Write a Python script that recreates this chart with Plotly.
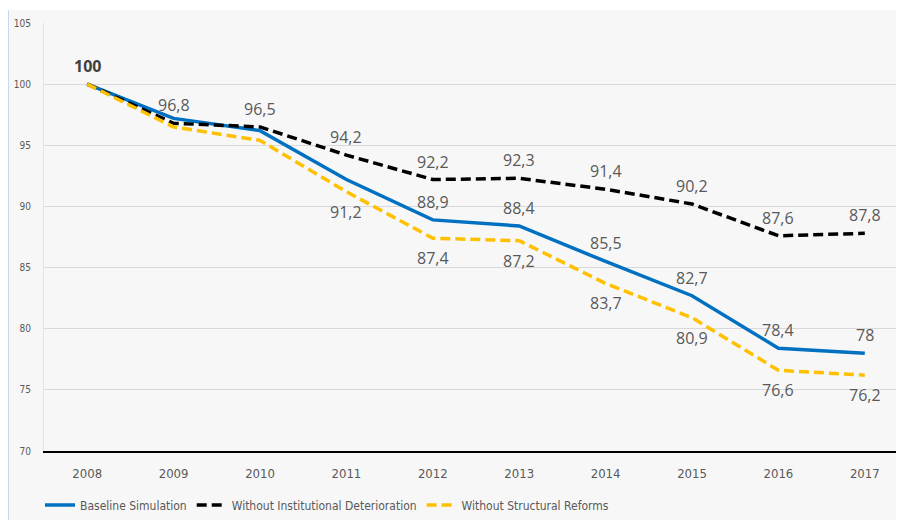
import plotly.graph_objects as go

years = [2008, 2009, 2010, 2011, 2012, 2013, 2014, 2015, 2016, 2017]
baseline = [100, 97.2, 96.2, 92.2, 88.9, 88.4, 85.5, 82.7, 78.4, 78]
without_inst = [100, 96.8, 96.5, 94.2, 92.2, 92.3, 91.4, 90.2, 87.6, 87.8]
without_struct = [100, 96.5, 95.4, 91.2, 87.4, 87.2, 83.7, 80.9, 76.6, 76.2]

series_names = ["Baseline Simulation", "Without Institutional Deterioration", "Without Structural Reforms"]
series_colors = ["#0070C0", "#000000", "#FFC000"]
series_dash = ["solid", "10px,5px", "10px,5px"]

# which years get a data label, and where (above / below)
baseline_label_years = [2012, 2013, 2014, 2015, 2016, 2017]
inst_label_years = [2009, 2010, 2011, 2012, 2013, 2014, 2015, 2016, 2017]
struct_label_years = [2011, 2012, 2013, 2014, 2015, 2016, 2017]

y_ticks = [70, 75, 80, 85, 90, 95, 100, 105]

NARROW = "DejaVu Sans Condensed, Roboto, sans-serif"
LABEL_FONT = "Open Sans, Liberation Sans, sans-serif"
GRAY = "#595959"


def fmt(v):
    if float(v).is_integer():
        return str(int(v))
    return str(v).replace(".", ",")


fig = go.Figure()
for name, vals, col, dash in zip(series_names, [baseline, without_inst, without_struct], series_colors, series_dash):
    fig.add_trace(go.Scatter(x=years, y=vals, mode="lines", name=name,
                             line=dict(color=col, width=3.5, dash=dash),
                             hoverinfo="skip"))

annotations = []
annotations.append(dict(x=years[0], y=baseline[0], text="<b>" + fmt(baseline[0]) + "</b>",
                        showarrow=False, yshift=18, font=dict(family=LABEL_FONT, size=16, color="#404040")))
for vals, lab_years, shift in [(baseline, baseline_label_years, 18),
                               (without_inst, inst_label_years, 18),
                               (without_struct, struct_label_years, -20)]:
    for yr in lab_years:
        v = vals[years.index(yr)]
        annotations.append(dict(x=yr, y=v, text=fmt(v), showarrow=False, yshift=shift,
                                font=dict(family=LABEL_FONT, size=16, color=GRAY)))

# figure geometry helpers (plot area: x 36..904 px, y 15..443 px in figure coords)
px_l, px_w, py_b, py_h = 36, 868, 443, 428
def pxx(p):
    return (p - px_l) / px_w
def pxy(p):
    return (py_b - p) / py_h

shapes = [
    dict(type="rect", xref="paper", yref="paper", x0=pxx(0), x1=1.0, y0=pxy(2), y1=pxy(0),
         fillcolor="#ffffff", line=dict(width=0), layer="below"),
    dict(type="line", xref="paper", yref="paper", x0=pxx(0.5), x1=pxx(0.5), y0=pxy(520), y1=pxy(2),
         line=dict(color="#c5d9f1", width=1), layer="below"),
]

fig.update_layout(
    width=904, height=520,
    margin=dict(l=36, r=0, t=15, b=77),
    paper_bgcolor="#f7f7f7",
    plot_bgcolor="#f7f7f7",
    showlegend=True,
    legend=dict(orientation="h", x=pxx(32), xanchor="left", y=pxy(497), yanchor="middle",
                font=dict(family=NARROW, size=12, color=GRAY), bgcolor="rgba(0,0,0,0)",
                itemwidth=30, tracegroupgap=0),
    annotations=annotations,
    shapes=shapes,
    xaxis=dict(range=[2007.5, 2007.5 + 868 / 86.4], tickvals=years, ticktext=[str(y) for y in years],
               showgrid=False, zeroline=False, showline=True, linecolor="#000000", linewidth=1.5,
               ticks="", tickfont=dict(family=NARROW, size=13, color=GRAY), ticklabelstandoff=10,
               fixedrange=True),
    yaxis=dict(range=[70, 105], tickvals=y_ticks, showgrid=True, gridcolor="#d9d9d9", gridwidth=1,
               zeroline=False, showline=True, linecolor="#dae5f3", linewidth=1, ticks="",
               tickfont=dict(family=NARROW, size=10, color=GRAY), ticklabelstandoff=10,
               fixedrange=True),
)

fig.write_html("out.html")
